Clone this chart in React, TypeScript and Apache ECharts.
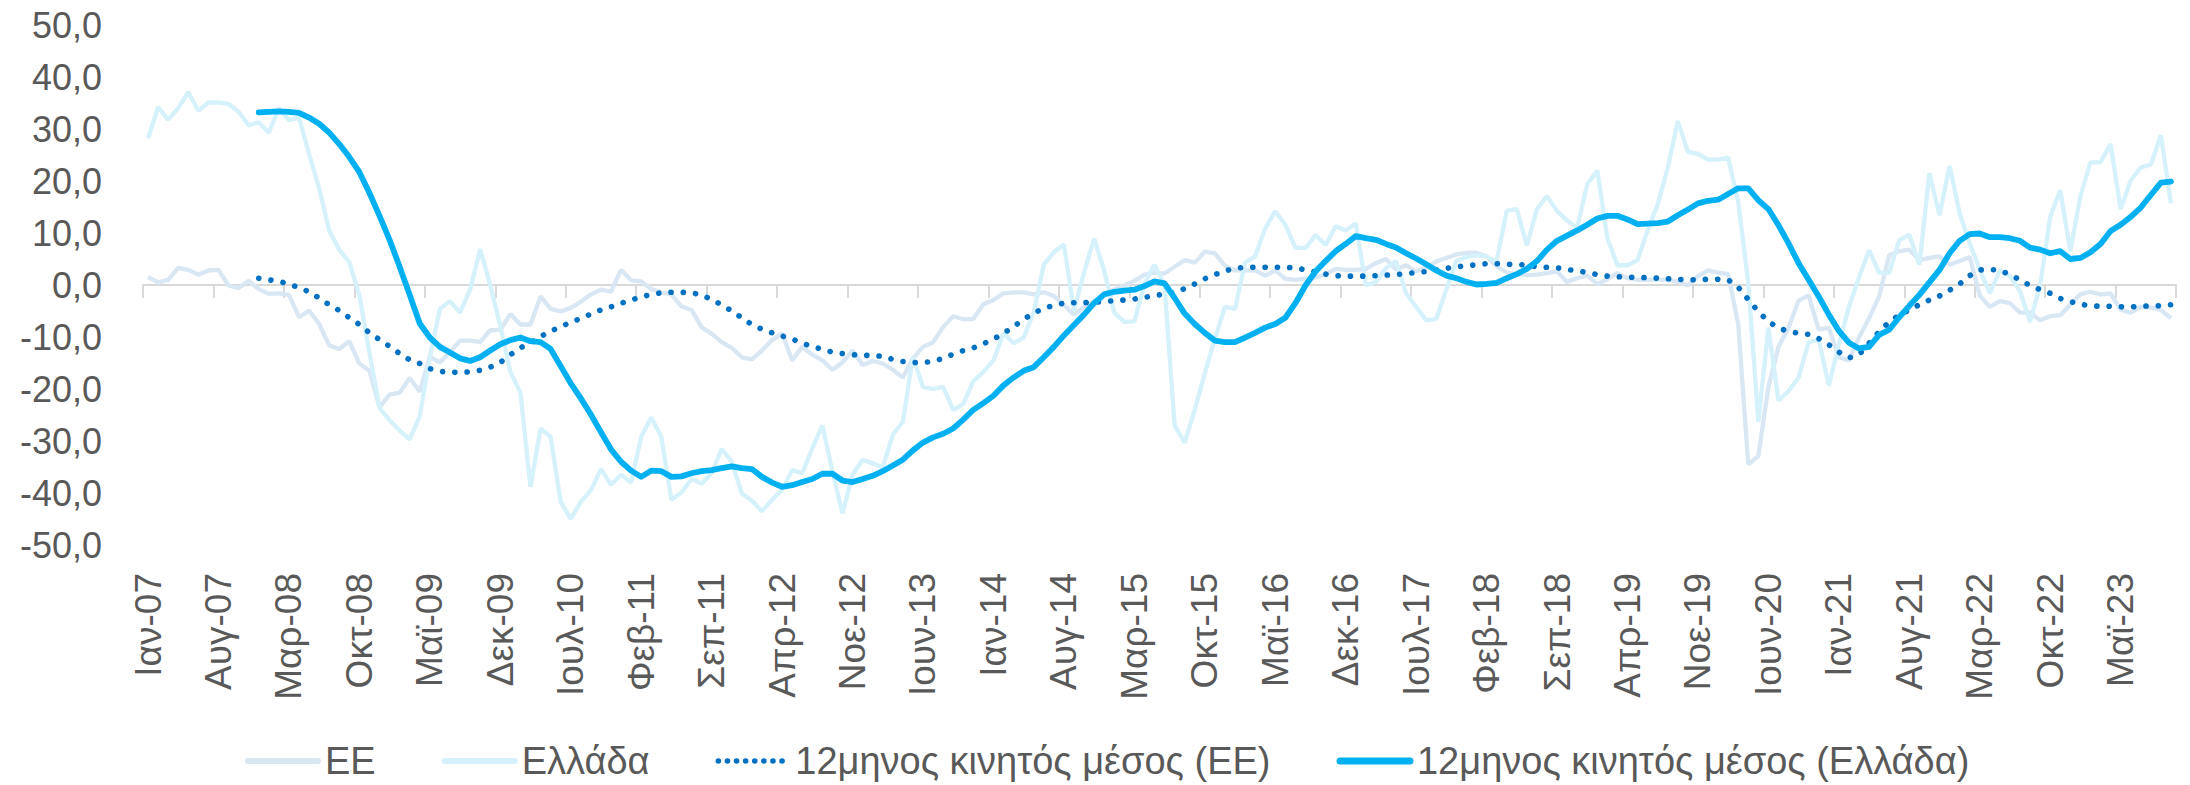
import React, { useEffect, useRef } from "react";
import * as echarts from "echarts";

const MONTHS = ["Ιαν", "Φεβ", "Μαρ", "Απρ", "Μαϊ", "Ιουν", "Ιουλ", "Αυγ", "Σεπ", "Οκτ", "Νοε", "Δεκ"];
const FIRST_YEAR = 2007;
const MONTH_COUNT = 202; // Ιαν-07 ... Οκτ-23

const CATEGORIES: string[] = [];
for (let k = 0; k < MONTH_COUNT; k++) {
  const y = FIRST_YEAR + Math.floor(k / 12);
  CATEGORIES.push(MONTHS[k % 12] + "-" + String(y % 100).padStart(2, "0"));
}

const Y_TICKS = [-50, -40, -30, -20, -10, 0, 10, 20, 30, 40, 50];

const SERIES_NAMES = ["ΕΕ", "Ελλάδα", "12μηνος κινητός μέσος (ΕΕ)", "12μηνος κινητός μέσος (Ελλάδα)"];

// ΕΕ monthly
const EU = [
  1.5, 0.5, 1.0, 3.3, 2.9, 2.0, 2.8, 2.9, -0.1, -0.6, 0.8, -0.8,
  -1.7, -1.6, -1.9, -6.2, -4.9, -7.5, -11.6, -12.3, -10.8, -15.1, -16.5, -23.5,
  -21.1, -20.7, -17.9, -20.5, -13.8, -14.9, -12.9, -10.7, -10.7, -11.0, -8.7, -8.6,
  -5.6, -7.6, -7.6, -2.2, -4.6, -5.1, -4.4, -3.2, -1.8, -0.9, -1.3, 2.9,
  0.9, 0.7, -0.8, -1.4, -1.8, -4.1, -4.8, -8.1, -9.4, -11.0, -12.1, -13.9,
  -14.3, -12.6, -10.6, -9.3, -14.5, -11.9, -13.4, -14.5, -16.3, -14.9, -12.6, -15.4,
  -14.6, -15.1, -16.3, -17.8, -14.1, -11.9, -11.0, -8.1, -6.0, -6.6, -6.5, -3.7,
  -2.9, -1.6, -1.4, -1.4, -1.8, -1.4, -2.1, -3.8, -5.7, -4.2, -3.1, -2.0,
  -0.9, -0.1, 0.8, 2.0, 2.4, 2.2, 3.5, 4.8, 4.3, 6.4, 6.1, 3.7,
  2.8, 2.8, 2.8, 1.8, 2.8, 1.2, 1.0, 1.2, 1.4, 2.1, 3.1, 2.9,
  2.9, 3.1, 4.2, 5.0, 3.0, 3.8, 2.6, 3.4, 4.5, 5.2, 5.9, 6.2,
  6.2, 5.5, 3.6, 2.4, 2.1, 1.9, 2.0, 2.3, 2.6, 0.6, 1.3, 1.8,
  0.2, 1.1, 2.3, 1.3, 1.0, 1.0, 1.1, 1.0, 0.6, -0.1, 1.7, 2.8,
  2.4, 2.1, -7.5, -34.5, -32.9, -19.6, -11.9, -8.2, -3.0, -2.0, -8.6, -8.2,
  -13.9, -14.5, -10.1, -6.4, -2.2, 5.7, 6.5, 6.8, 4.8, 5.2, 5.5, 3.9,
  4.6, 5.4, -2.0, -4.2, -3.1, -3.5, -5.3, -5.3, -6.8, -6.0, -5.8, -3.8,
  -1.8, -1.3, -1.8, -1.6, -4.8, -5.3, -4.2, -4.3, -4.8, -6.4,
];

// Ελλάδα monthly
const GR = [
  28.2, 34.2, 31.8, 34.0, 37.1, 33.5, 35.1, 35.1, 34.8, 33.3, 30.7, 31.3,
  29.3, 34.0, 31.7, 32.2, 25.2, 18.6, 10.5, 6.8, 4.4, -2.0, -13.0, -23.7,
  -26.0, -28.0, -29.7, -25.2, -13.8, -4.6, -3.1, -5.3, -0.9, 6.9, 0.0, -7.9,
  -16.7, -20.7, -38.8, -27.6, -29.2, -41.7, -45.0, -41.7, -39.5, -35.4, -38.4, -36.5,
  -38.0, -29.2, -25.5, -29.2, -41.3, -39.9, -37.3, -38.2, -36.2, -31.5, -34.0, -40.1,
  -41.5, -43.5, -41.3, -39.4, -35.6, -36.2, -31.4, -27.0, -35.8, -43.9, -36.5, -33.6,
  -34.3, -35.1, -28.8, -26.3, -13.8, -19.6, -20.0, -19.6, -24.0, -22.9, -18.5, -16.7,
  -14.5, -9.3, -11.2, -10.1, -5.3, 3.9, 6.3, 7.8, -4.9, 2.4, 8.9, 2.8,
  -5.3, -7.1, -7.0, 0.2, 3.9, 0.0, -27.0, -30.3, -24.0, -17.0, -10.4, -4.2,
  -4.6, 4.3, 5.5, 10.9, 14.2, 11.6, 7.2, 7.1, 9.6, 7.7, 11.3, 10.5,
  11.8, -0.1, 0.6, 3.2, 4.6, -1.6, -4.2, -6.8, -6.5, -0.9, 4.6, 5.4,
  5.7, 5.4, 4.6, 14.3, 14.6, 7.6, 14.6, 17.1, 14.2, 12.4, 11.0, 19.4,
  22.0, 9.0, 3.8, 3.8, 4.8, 10.5, 15.5, 22.5, 31.5, 25.6, 25.2, 24.1,
  24.1, 24.5, 16.0, 0.5, -26.3, -8.2, -22.2, -20.4, -17.8, -11.0, -10.5, -19.3,
  -11.5, -4.2, 1.4, 6.7, 2.4, 2.3, 8.6, 9.7, 3.9, 21.5, 13.4, 22.9,
  13.8, 8.0, 3.0, -1.6, 2.8, 1.7, -1.2, -7.1, -0.1, 13.1, 18.2, 6.5,
  17.1, 23.6, 23.6, 27.1, 14.6, 20.1, 22.6, 23.2, 28.8, 15.7,
];

// 12μηνος κινητός μέσος (ΕΕ), first value at Δεκ-07
const EU_MA = [
  null, null, null, null, null, null, null, null, null, null, null, 1.3,
  1.0, 0.7, 0.2, -0.5, -1.3, -2.5, -3.8, -4.9, -6.3, -7.6, -9.2, -10.5,
  -11.8, -13.2, -14.4, -15.1, -16.1, -16.6, -16.8, -16.8, -16.7, -16.4, -15.8, -14.9,
  -13.4, -12.1, -11.1, -9.9, -8.9, -8.0, -7.2, -6.4, -5.6, -4.8, -4.2, -3.5,
  -2.9, -2.3, -1.8, -1.5, -1.4, -1.4, -1.5, -1.9, -2.8, -3.8, -5.0, -6.3,
  -7.6, -8.5, -9.2, -9.8, -10.4, -11.2, -11.8, -12.4, -12.9, -13.2, -13.4, -13.5,
  -13.6, -13.7, -14.3, -14.7, -14.9, -14.9, -14.7, -14.1, -13.3, -12.6, -12.1, -11.3,
  -10.4, -9.3, -8.0, -6.6, -5.4, -4.5, -3.9, -3.5, -3.4, -3.4, -3.3, -3.2,
  -3.0, -2.9, -2.7, -2.4, -2.0, -1.8, -1.3, -0.7, 0.2, 1.2, 2.0, 2.7,
  3.2, 3.4, 3.4, 3.4, 3.4, 3.4, 3.3, 2.9, 2.5, 2.1, 1.8, 1.7,
  1.7, 1.7, 1.8, 1.9, 2.0, 2.2, 2.4, 2.6, 2.9, 3.2, 3.5, 3.7,
  3.9, 4.1, 4.1, 4.0, 4.0, 3.8, 3.5, 3.4, 3.3, 3.0, 2.7, 2.4,
  2.0, 1.7, 1.6, 1.5, 1.5, 1.4, 1.3, 1.2, 1.1, 1.0, 1.0, 1.1,
  1.1, 1.0, -0.4, -2.8, -5.1, -7.0, -8.3, -8.9, -9.3, -9.5, -10.3, -11.5,
  -12.9, -14.0, -13.4, -11.2, -9.0, -7.1, -5.8, -4.8, -3.8, -2.9, -2.1, -1.0,
  0.2, 1.8, 2.9, 3.0, 2.8, 2.0, 1.0, -0.1, -0.9, -1.6, -2.6, -3.2,
  -3.7, -4.0, -4.1, -4.1, -4.2, -4.2, -4.1, -4.0, -4.0, -3.8,
];

// 12μηνος κινητός μέσος (Ελλάδα), first value at Δεκ-07
const GR_MA = [
  null, null, null, null, null, null, null, null, null, null, null, 33.2,
  33.3, 33.4, 33.3, 33.1, 32.2, 31.0, 29.3, 27.1, 24.6, 21.7, 17.7, 13.3,
  8.7, 3.5, -1.9, -7.4, -10.1, -11.9, -13.0, -14.1, -14.6, -13.9, -12.6, -11.4,
  -10.6, -10.1, -10.8, -11.0, -12.3, -15.6, -18.9, -21.8, -24.9, -28.3, -31.6, -34.0,
  -35.7, -36.9, -35.7, -35.8, -36.9, -36.8, -36.2, -35.8, -35.6, -35.2, -34.9, -35.2,
  -35.4, -36.9, -38.0, -38.8, -38.5, -37.9, -37.3, -36.3, -36.3, -37.6, -37.9, -37.3,
  -36.7, -35.8, -34.7, -33.6, -31.8, -30.3, -29.3, -28.6, -27.6, -25.9, -24.0, -22.7,
  -21.3, -19.3, -17.8, -16.5, -15.8, -13.9, -11.9, -9.7, -7.7, -5.7, -3.5, -1.8,
  -1.3, -1.1, -0.9, -0.2, 0.7, 0.3, -2.5, -5.5, -7.5, -9.2, -10.7, -11.0,
  -11.0, -10.1, -9.2, -8.2, -7.5, -6.3, -3.5, -0.1, 2.6, 4.6, 6.5, 7.9,
  9.4, 9.0, 8.7, 7.9, 7.2, 6.1, 5.1, 4.0, 2.8, 1.8, 1.3, 0.6,
  0.1, 0.2, 0.4, 1.3, 2.1, 3.1, 4.6, 6.8, 8.5, 9.5, 10.5, 11.6,
  12.8, 13.3, 13.3, 12.6, 11.7, 11.8, 11.9, 12.2, 13.4, 14.5, 15.7, 16.2,
  16.4, 17.5, 18.6, 18.6, 16.3, 14.6, 11.5, 8.0, 4.2, 1.0, -2.2, -5.7,
  -8.8, -11.1, -12.2, -11.9, -9.6, -8.6, -6.2, -4.0, -1.9, 0.5, 2.9, 6.1,
  8.5, 9.8, 9.9, 9.2, 9.2, 9.0, 8.5, 7.2, 6.8, 6.1, 6.5, 5.0,
  5.2, 6.3, 7.9, 10.4, 11.6, 13.1, 14.9, 17.3, 19.7, 19.9,
];

const FONT = "'Liberation Sans', Arial, sans-serif";
const TEXT_COLOR = "#595959";
const AXIS_COLOR = "#D9D9D9";
const EU_COLOR = "#D9E6F4";
const GR_COLOR = "#D5F1FC";
const EU_MA_COLOR = "#0070C0";
const GR_MA_COLOR = "#00B0F0";
const DOTS: number[] = [0.1, 12.2];

export default function App() {
  const ref = useRef<HTMLDivElement>(null);

  useEffect(() => {
    if (!ref.current) return;
    const chart = echarts.init(ref.current, undefined, { renderer: "svg" });
    chart.setOption({
      animation: false,
      backgroundColor: "#ffffff",
      textStyle: { fontFamily: FONT },
      grid: { left: 143, right: 14, top: 25, bottom: 240, containLabel: false },
      legend: {
        data: [
          { name: SERIES_NAMES[0], lineStyle: { width: 6, color: EU_COLOR, cap: "round" } },
          { name: SERIES_NAMES[1], lineStyle: { width: 6, color: GR_COLOR, cap: "round" } },
          { name: SERIES_NAMES[2], lineStyle: { width: 5.5, color: EU_MA_COLOR, type: [0.1, 9], cap: "round" } },
          { name: SERIES_NAMES[3], lineStyle: { width: 7, color: GR_MA_COLOR, cap: "round" } },
        ],
        left: 240,
        top: 737,
        itemWidth: 70,
        itemHeight: 14,
        itemGap: 66,
        itemStyle: { opacity: 0 },
        textStyle: { fontSize: 38, color: TEXT_COLOR, fontFamily: FONT, padding: [0, 0, 0, 2] },
      },
      xAxis: [
        {
          type: "category",
          data: CATEGORIES,
          boundaryGap: true,
          position: "bottom",
          axisLine: { show: true, onZero: true, lineStyle: { color: AXIS_COLOR, width: 2 } },
          axisTick: { show: true, interval: 6, length: 13, lineStyle: { color: AXIS_COLOR, width: 2 } },
          axisLabel: { show: false },
          splitLine: { show: false },
        },
        {
          type: "category",
          data: CATEGORIES,
          boundaryGap: true,
          position: "bottom",
          offset: 0,
          axisLine: { show: false, onZero: false },
          axisTick: { show: false },
          axisLabel: {
            interval: 6,
            rotate: 90,
            margin: 28,
            fontSize: 37,
            color: TEXT_COLOR,
            fontFamily: FONT,
          },
          splitLine: { show: false },
        },
      ],
      yAxis: {
        type: "value",
        min: Y_TICKS[0],
        max: Y_TICKS[Y_TICKS.length - 1],
        interval: 10,
        axisLine: { show: false },
        axisTick: { show: false },
        splitLine: { show: false },
        axisLabel: {
          fontSize: 36,
          color: TEXT_COLOR,
          fontFamily: FONT,
          margin: 41,
          formatter: (v: number) => v.toFixed(1).replace(".", ","),
        },
      },
      series: [
        {
          name: SERIES_NAMES[0],
          type: "line",
          xAxisIndex: 0,
          data: EU,
          symbol: "none",
          showSymbol: false,
          lineStyle: { color: EU_COLOR, width: 4.3 },
          itemStyle: { color: EU_COLOR },
          z: 2,
        },
        {
          name: SERIES_NAMES[1],
          type: "line",
          xAxisIndex: 0,
          data: GR,
          symbol: "none",
          showSymbol: false,
          lineStyle: { color: GR_COLOR, width: 4.3 },
          itemStyle: { color: GR_COLOR },
          z: 3,
        },
        {
          name: SERIES_NAMES[2],
          type: "line",
          xAxisIndex: 0,
          data: EU_MA,
          symbol: "none",
          showSymbol: false,
          connectNulls: false,
          lineStyle: { color: EU_MA_COLOR, width: 5.6, type: DOTS, cap: "round" },
          itemStyle: { color: EU_MA_COLOR },
          z: 4,
        },
        {
          name: SERIES_NAMES[3],
          type: "line",
          xAxisIndex: 0,
          data: GR_MA,
          symbol: "none",
          showSymbol: false,
          connectNulls: false,
          lineStyle: { color: GR_MA_COLOR, width: 5.8, cap: "round", join: "round" },
          itemStyle: { color: GR_MA_COLOR },
          z: 5,
        },
      ],
    });
    return () => chart.dispose();
  }, []);

  return (
    <div
      ref={ref}
      style={{ position: "absolute", left: 0, top: 0, width: 2190, height: 785, background: "#fff" }}
    />
  );
}
